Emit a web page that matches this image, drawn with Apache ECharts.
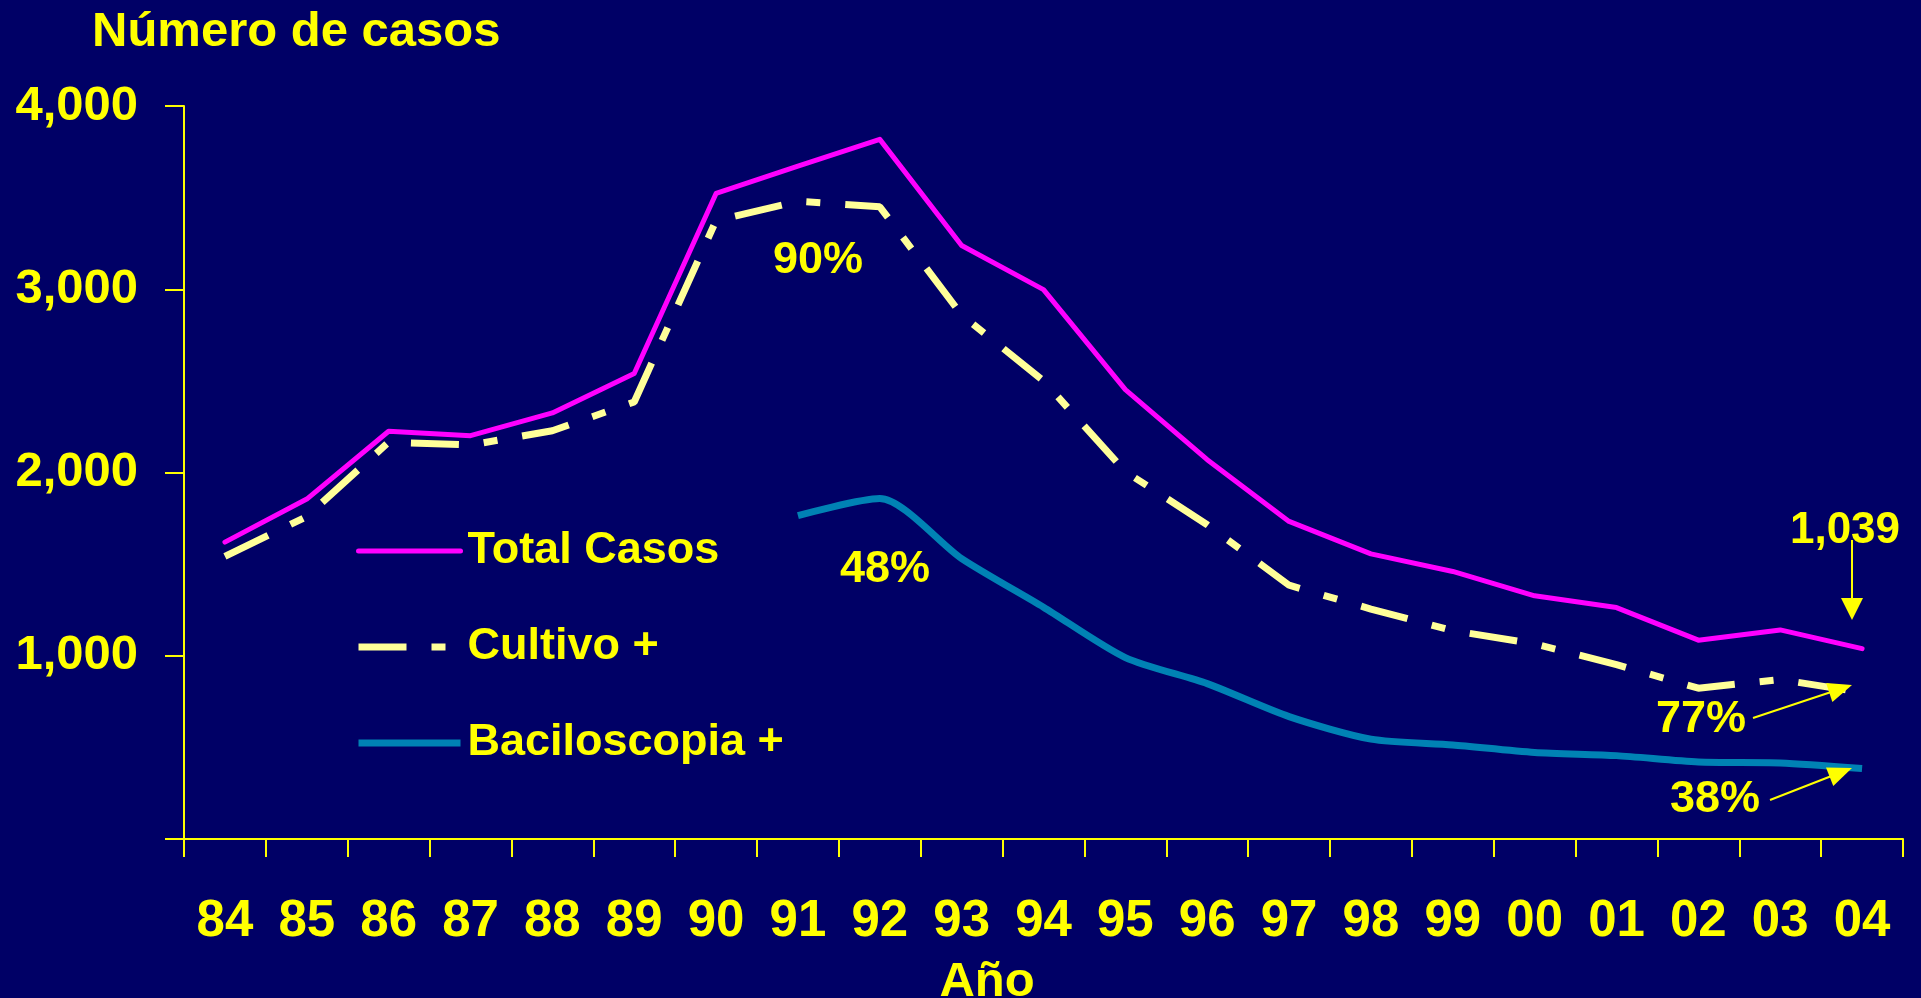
<!DOCTYPE html>
<html>
<head>
<meta charset="utf-8">
<script src="https://cdn.jsdelivr.net/npm/echarts@6/dist/echarts.min.js"></script>
<style>
html,body{margin:0;padding:0;background:#000066;overflow:hidden;}
#c{width:1921px;height:998px;}
</style>
</head>
<body>
<div id="c"></div>
<script>
// ---- data ----
const years = ['84','85','86','87','88','89','90','91','92','93','94','95','96','97','98','99','00','01','02','03','04'];
const totalCasos   = [1620,1855,2225,2201,2325,2540,3523,3672,3818,3239,2998,2452,2070,1733,1556,1460,1327,1263,1085,1141,1039];
const cultivo      = [1542,1760,2166,2150,2228,2385,3375,3480,3450,2860,2500,2005,1715,1385,1255,1137,1065,952,823,870,800];
const baciloscopia = [null,null,null,null,null,null,null,1765,1858,1530,1265,990,848,668,545,513,472,455,420,415,385];
const yTickValues  = [0,1000,2000,3000,4000];

const FONT = "'Liberation Sans', Arial, sans-serif";
const YEL = '#FFFF00';
const C_TOTAL = '#FF00FF', C_CULT = '#FFFF99', C_BACI = '#0082B4';
const CULT_DASH = [48,25,14,25];

const chart = echarts.init(document.getElementById('c'), null, {renderer:'canvas'});

function arrow(x1,y1,x2,y2,headLen,headHalf){
  const dx=x2-x1, dy=y2-y1, L=Math.sqrt(dx*dx+dy*dy);
  const ux=dx/L, uy=dy/L, px=-uy, py=ux;
  const bx=x2-ux*headLen, by=y2-uy*headLen;
  return [
    {type:'line', shape:{x1:x1,y1:y1,x2:bx+ux*2,y2:by+uy*2}, style:{stroke:YEL,lineWidth:2}, z:100},
    {type:'polygon', shape:{points:[[x2,y2],[bx+px*headHalf,by+py*headHalf],[bx-px*headHalf,by-py*headHalf]]}, style:{fill:YEL}, z:100}
  ];
}
function label(text,x,y,size){
  return {type:'text', x:x, y:y, z:100, style:{text:text, fill:YEL, font:'bold '+size+'px '+FONT, align:'center', verticalAlign:'middle'}};
}

const graphics = [
  {type:'text', x:92, y:32, z:100, style:{text:'Número de casos', fill:YEL, font:'bold 49px '+FONT, align:'left', verticalAlign:'middle'}},
  {type:'text', x:987, y:982, z:100, style:{text:'Año', fill:YEL, font:'bold 49px '+FONT, align:'center', verticalAlign:'middle'}},
  label('90%',818,261,45),
  label('48%',885,570,45),
  label('1,039',1845,531,44),
  label('77%',1701,720,45),
  label('38%',1715,800,45)
].concat(
  arrow(1852,540,1852,620,22,11),
  arrow(1753,718,1852,685,24,10),
  arrow(1770,800,1852,768,24,10)
);

chart.setOption({
  backgroundColor:'#000066',
  animation:false,
  grid:{left:184,right:18,top:106,bottom:159,containLabel:false},
  legend:{
    orient:'vertical', left:350, top:521,
    itemWidth:102, itemHeight:20, itemGap:46,
    itemStyle:{opacity:0},
    textStyle:{color:YEL, fontSize:45, fontWeight:'bold', fontFamily:FONT, lineHeight:50, padding:[0,0,0,2]},
    data:[
      {name:'Total Casos', lineStyle:{color:C_TOTAL, width:5, cap:'round'}},
      {name:'Cultivo +', lineStyle:{color:C_CULT, width:7, type:CULT_DASH}},
      {name:'Baciloscopia +', lineStyle:{color:C_BACI, width:7}}
    ]
  },
  xAxis:{
    type:'category', data:years, boundaryGap:true,
    axisLine:{lineStyle:{color:YEL,width:2}},
    axisTick:{show:true,length:18,lineStyle:{color:YEL,width:2}},
    axisLabel:{color:YEL, fontSize:51, fontWeight:'bold', fontFamily:FONT, margin:57, interval:0},
    splitLine:{show:false}
  },
  yAxis:{
    type:'value', min:0, max:4000, interval:1000,
    axisLine:{show:true,lineStyle:{color:YEL,width:2}},
    axisTick:{show:true,length:19,lineStyle:{color:YEL,width:2}},
    axisLabel:{color:YEL, fontSize:49, fontWeight:'bold', fontFamily:FONT, margin:46,
      formatter:function(v){ return yTickValues.indexOf(v)>0 ? v.toLocaleString('en-US') : ''; }},
    splitLine:{show:false}
  },
  series:[
    {name:'Total Casos', type:'line', data:totalCasos, symbol:'none',
     lineStyle:{color:C_TOTAL, width:5, cap:'round', join:'round'}, itemStyle:{color:C_TOTAL}},
    {name:'Cultivo +', type:'line', data:cultivo, symbol:'none',
     lineStyle:{color:C_CULT, width:7, type:CULT_DASH}, itemStyle:{color:C_CULT}},
    {name:'Baciloscopia +', type:'line', data:baciloscopia, symbol:'none', smooth:0.25, connectNulls:false,
     lineStyle:{color:C_BACI, width:7}, itemStyle:{color:C_BACI}}
  ],
  graphic:graphics
});
</script>
</body>
</html>
